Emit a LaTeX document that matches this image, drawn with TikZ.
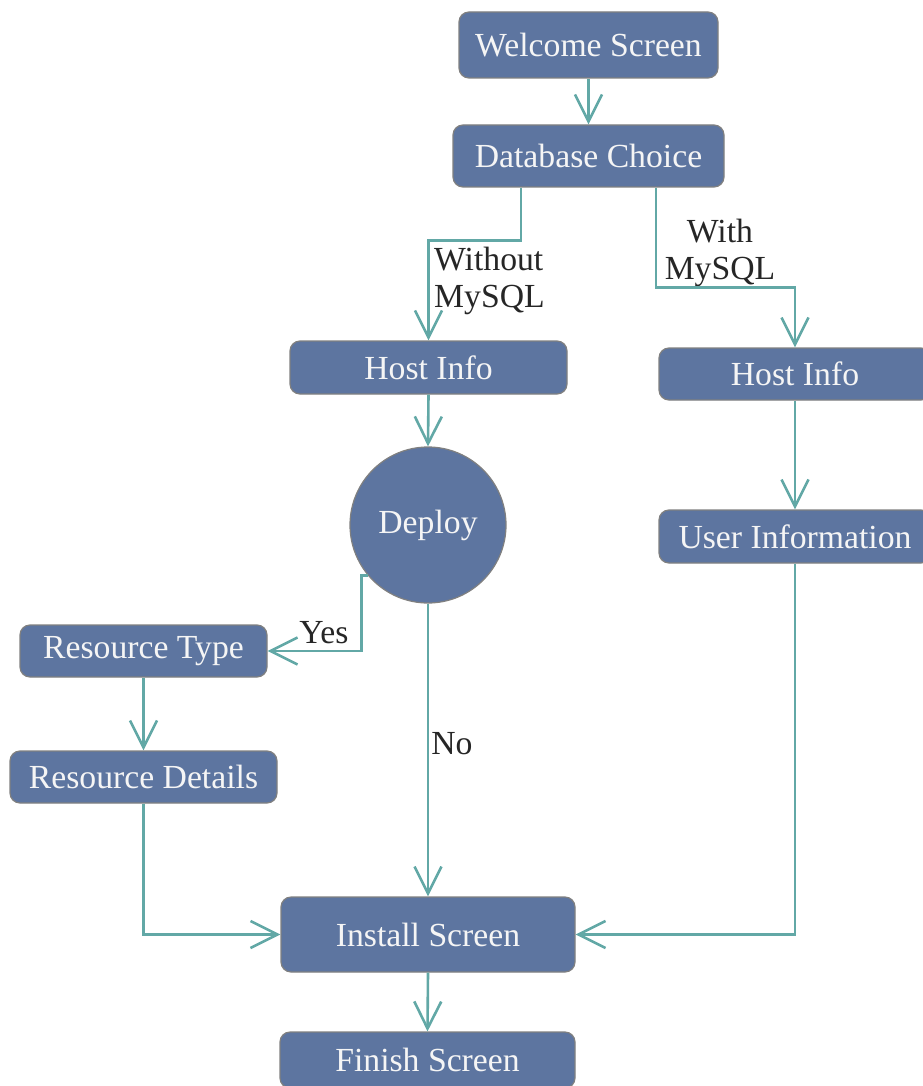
\documentclass[tikz,border=0pt]{standalone}
\usepackage{fontspec}
\setmainfont{Liberation Serif}
\usetikzlibrary{arrows.meta,calc}
\definecolor{boxfill}{RGB}{93,117,160}
\definecolor{boxline}{RGB}{128,128,128}
\definecolor{conncol}{RGB}{98,168,166}
\definecolor{boxtext}{RGB}{245,245,245}
\tikzset{
  box/.style={draw=boxline, line width=1.2pt, fill=boxfill, rounded corners=10pt,
    text=boxtext, inner sep=0pt, font=\fontsize{33.7}{40}\selectfont},
  roundnode/.style={draw=boxline, line width=1.2pt, fill=boxfill, circle,
    text=boxtext, inner sep=0pt, minimum size=156pt, font=\fontsize{33.7}{40}\selectfont},
  conn/.style={draw=conncol, line width=2.6pt,
    -{Straight Barb[length=27pt,width=27pt,line width=2.6pt]}},
  lbl/.style={text=black!85, inner sep=0pt, font=\fontsize{33.7}{36}\selectfont}
}
\begin{document}
\begin{tikzpicture}[x=1pt,y=-1pt]
\useasboundingbox (0,0) rectangle (922,1086);
\node[box, minimum width=259pt, minimum height=66pt] (welcome) at (588.5,45) {Welcome Screen};
\node[box, minimum width=271pt, minimum height=62pt] (db) at (588.5,156) {Database Choice};
\node[box, minimum width=277pt, minimum height=53pt] (hostL) at (428.5,367.5) {Host Info};
\node[box, minimum width=272pt, minimum height=52pt] (hostR) at (795,374) {Host Info};
\node[roundnode] (deploy) at (428,525) {Deploy};
\node[box, minimum width=272pt, minimum height=53pt] (user) at (795,536.5) {User Information};
\node[box, minimum width=247pt, minimum height=52pt] (rtype) at (143.5,651) {Resource Type};
\node[box, minimum width=267pt, minimum height=52pt] (rdet) at (143.5,777) {Resource Details};
\node[box, minimum width=294pt, minimum height=75pt] (install) at (428,934.5) {Install Screen};
\node[box, minimum width=295pt, minimum height=56pt] (finish) at (427.5,1060) {Finish Screen};

\node[lbl, align=left, anchor=west] (lwithout) at (434,281) {Without\\[1pt]MySQL};
\node[lbl, align=center] (lwith) at (720,253) {With\\[1pt]MySQL};
\node[lbl] (lyes) at (324,633) {Yes};
\node[lbl] (lno) at (452,744) {No};

\draw[conn] (welcome.south) -- (db.north);
\draw[conn] ([xshift=-67.5pt]db.south) -- ++(0,53) -| (hostL.north);
\draw[conn] ([xshift=67.5pt]db.south) -- ++(0,100) -| (hostR.north);
\draw[conn] (hostL.south) -- (deploy.north);
\draw[conn] (hostR.south) -- (user.north);
\draw[conn] (deploy.220) -- ++(-6,0) |- (rtype.east);
\draw[conn] (deploy.south) -- (install.north);
\draw[conn] (rtype.south) -- (rdet.north);
\draw[conn] (rdet.south) |- (install.west);
\draw[conn] (user.south) |- (install.east);
\draw[conn] (install.south) -- (finish.north);
\end{tikzpicture}
\end{document}
